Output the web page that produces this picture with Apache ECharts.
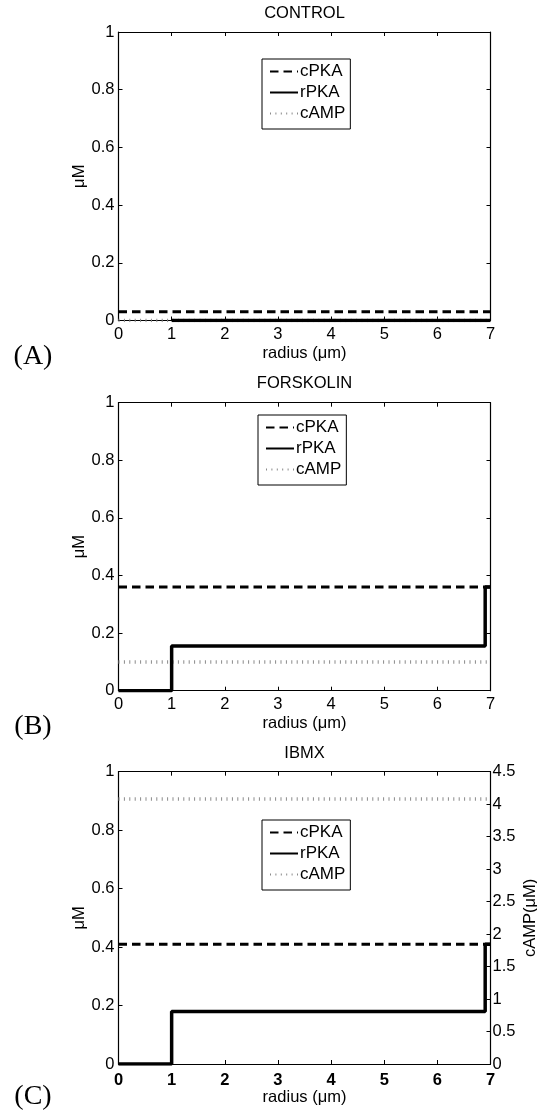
<!DOCTYPE html>
<html>
<head>
<meta charset="utf-8">
<script src="https://cdn.jsdelivr.net/npm/echarts@6/dist/echarts.min.js"></script>
<style>
  html, body { margin: 0; padding: 0; background: #fff; }
  #main { width: 537px; height: 1113px; }
</style>
</head>
<body>
<div id="main"></div>
<script>
// values
var panelTitles = ['CONTROL', 'FORSKOLIN', 'IBMX'];
var panelLetters = ['(A)', '(B)', '(C)'];
var seriesNames = ['cPKA', 'rPKA', 'cAMP'];

var flatX = [0, 7];
var stepX = [0, 1, 1, 6.9, 6.9, 7];
var controlRX = [1, 7];

var controlCPKA = [0.03, 0.03];
var controlRPKA = [0, 0];
var controlCAMP = [0, 0];

var forskCPKA = [0.36, 0.36];
var forskRPKA = [0, 0, 0.155, 0.155, 0.36, 0.36];
var forskCAMP = [0.1, 0.1];

var ibmxCPKA = [0.41, 0.41];
var ibmxRPKA = [0, 0, 0.18, 0.18, 0.41, 0.41];
var ibmxCAMP = [4.08, 4.08];   // right axis, cAMP (µM)

function pairs(xs, ys) {
    return xs.map(function (x, i) { return [x, ys[i]]; });
}

var FONT = 'Liberation Sans, Arial, sans-serif';
var grids = [
    { left: 118.5, width: 372, top: 32, height: 288.5, outerBoundsMode: 'none' },
    { left: 118.5, width: 372, top: 402.7, height: 288, outerBoundsMode: 'none' },
    { left: 118.5, width: 372, top: 771.7, height: 292.3, outerBoundsMode: 'none' }
];

var chart = echarts.init(document.getElementById('main'));

var xAxes = [], yAxes = [];
grids.forEach(function (g, i) {
    xAxes.push({
        type: 'value', gridIndex: i, position: 'bottom',
        min: 0, max: 7, interval: 1,
        name: 'radius (μm)', nameLocation: 'middle', nameGap: 24.5, nameMoveOverlap: false,
        nameTextStyle: { fontFamily: FONT, fontSize: 16.5, color: '#000' },
        axisLine: { show: true, onZero: false, lineStyle: { color: '#000', width: 1.2 } },
        axisTick: { show: true, inside: true, length: 4, lineStyle: { color: '#000' } },
        axisLabel: { fontFamily: FONT, fontSize: 16.5, color: '#000', margin: i === 2 ? 8 : 5.5,
                     fontWeight: i === 2 ? 'bold' : 'normal' },
        splitLine: { show: false }
    });
});
grids.forEach(function (g, i) {
    xAxes.push({
        type: 'value', gridIndex: i, position: 'top',
        min: 0, max: 7, interval: 1,
        axisLine: { show: true, onZero: false, lineStyle: { color: '#000', width: 1.2 } },
        axisTick: { show: true, inside: true, length: 4, lineStyle: { color: '#000' } },
        axisLabel: { show: false },
        splitLine: { show: false }
    });
});
grids.forEach(function (g, i) {
    yAxes.push({
        type: 'value', gridIndex: i, position: 'left',
        min: 0, max: 1, interval: 0.2,
        name: 'μM', nameLocation: 'middle', nameGap: 31, nameMoveOverlap: false,
        nameTextStyle: { fontFamily: FONT, fontSize: 16.5, color: '#000' },
        axisLine: { show: true, onZero: false, lineStyle: { color: '#000', width: 1.2 } },
        axisTick: { show: true, inside: true, length: 4, lineStyle: { color: '#000' } },
        axisLabel: { fontFamily: FONT, fontSize: 16.5, color: '#000', margin: 4 },
        splitLine: { show: false }
    });
});
// plain right edges for A and B
[0, 1].forEach(function (i) {
    yAxes.push({
        type: 'value', gridIndex: i, position: 'right',
        min: 0, max: 1, interval: 0.2,
        axisLine: { show: true, onZero: false, lineStyle: { color: '#000', width: 1.2 } },
        axisTick: { show: true, inside: true, length: 4, lineStyle: { color: '#000' } },
        axisLabel: { show: false },
        splitLine: { show: false }
    });
});
// cAMP axis for C
yAxes.push({
    type: 'value', gridIndex: 2, position: 'right',
    min: 0, max: 4.5, interval: 0.5,
    name: 'cAMP(μM)', nameLocation: 'middle', nameGap: 31, nameMoveOverlap: false,
    nameTextStyle: { fontFamily: FONT, fontSize: 16.5, color: '#000' },
    axisLine: { show: true, onZero: false, lineStyle: { color: '#000', width: 1.2 } },
    axisTick: { show: true, inside: true, length: 4, lineStyle: { color: '#000' } },
    axisLabel: { fontFamily: FONT, fontSize: 16.5, color: '#000', margin: 2 },
    splitLine: { show: false }
});

var styles = {
    cPKA: { color: '#000', width: 3, type: [8.5, 5] },
    rPKA: { color: '#000', width: 3.5, type: 'solid' },
    cAMP: { color: '#8a8a8a', width: 3.5, type: [1, 4.4] }
};

function line(name, data, grid, yIdx) {
    return {
        name: name, type: 'line', data: data,
        xAxisIndex: grid, yAxisIndex: yIdx,
        showSymbol: false, symbol: 'none', animation: false,
        lineStyle: styles[name], itemStyle: { color: styles[name].color },
        z: name === 'rPKA' ? 4 : (name === 'cPKA' ? 3 : 2)
    };
}

var series = [
    line('cAMP', pairs(flatX, controlCAMP), 0, 0),
    line('cPKA', pairs(flatX, controlCPKA), 0, 0),
    line('rPKA', pairs(controlRX, controlRPKA), 0, 0),
    line('cAMP', pairs(flatX, forskCAMP), 1, 1),
    line('cPKA', pairs(flatX, forskCPKA), 1, 1),
    line('rPKA', pairs(stepX, forskRPKA), 1, 1),
    line('cAMP', pairs(flatX, ibmxCAMP), 2, 5),
    line('cPKA', pairs(flatX, ibmxCPKA), 2, 2),
    line('rPKA', pairs(stepX, ibmxRPKA), 2, 2)
];

var legendPos = [[262, 59], [258, 415], [262, 820]];
var legends = legendPos.map(function (p) {
    return {
        data: seriesNames, orient: 'vertical',
        left: p[0], top: p[1],
        itemWidth: 28, itemHeight: 17, itemGap: 4,
        padding: [4, 5, 7, 7],
        borderColor: '#000', borderWidth: 1, backgroundColor: '#fff',
        selectedMode: false,
        itemStyle: { color: 'transparent', borderWidth: 0, opacity: 0 },
        textStyle: { fontFamily: FONT, fontSize: 17, lineHeight: 17, color: '#000', padding: [0, 0, 0, -3] }
    };
});

var titleTops = [4.5, 375, 745];
var titles = panelTitles.map(function (t, i) {
    return {
        text: t, left: 304.5, top: titleTops[i], textAlign: 'center', padding: 0,
        textStyle: { fontFamily: FONT, fontSize: 16.5, fontWeight: 'normal', color: '#000', lineHeight: 17 }
    };
});

var letterY = [357, 727, 1097];
var graphics = panelLetters.map(function (t, i) {
    return {
        type: 'text', x: 33, y: letterY[i],
        style: { text: t, font: '28px "Liberation Serif", "DejaVu Serif", serif', fill: '#000',
                 align: 'center', verticalAlign: 'middle' }
    };
});

chart.setOption({
    backgroundColor: '#fff',
    animation: false,
    title: titles,
    legend: legends,
    grid: grids,
    xAxis: xAxes,
    yAxis: yAxes,
    series: series,
    graphic: graphics
});
</script>
</body>
</html>
